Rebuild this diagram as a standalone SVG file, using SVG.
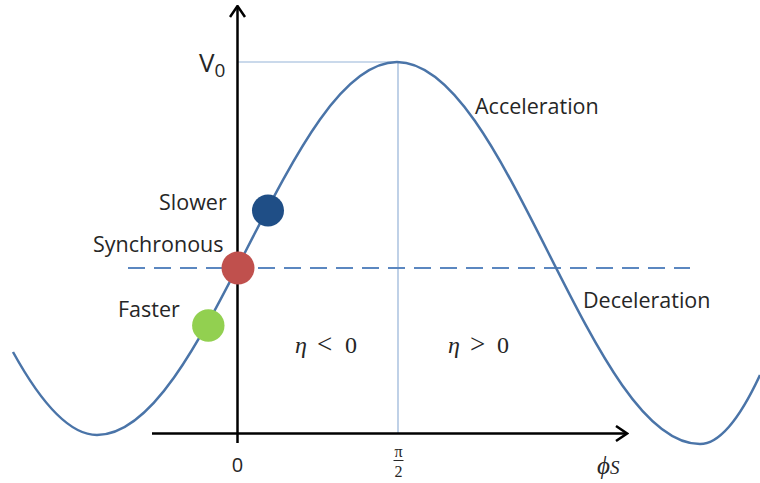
<svg xmlns="http://www.w3.org/2000/svg" width="760" height="483" viewBox="0 0 760 483">
<style>
.lbl{font-family:"Open Sans","Liberation Sans",sans-serif;font-size:21.5px;fill:#262626}
.math{font-family:"Liberation Serif","DejaVu Serif",serif;fill:#262626}
.axis{stroke:#000;stroke-width:2.5;fill:none}
.guide{stroke:#95B3D7;stroke-width:1.2;fill:none}
</style>
<defs>
<marker id="arrow" viewBox="0 0 14 18" refX="12.5" refY="9" markerWidth="14" markerHeight="18" markerUnits="userSpaceOnUse" orient="auto">
<path d="M1.5,1.5 L12.5,9 L1.5,16.5" fill="none" stroke="#000" stroke-width="2.5"/>
</marker>
</defs>
<rect width="760" height="483" fill="#fff"/>
<g id="guides">
<line class="guide" x1="237" y1="62" x2="398" y2="62"/>
<line class="guide" x1="398" y1="62" x2="398" y2="433"/>
<line x1="128" y1="268" x2="690" y2="268" stroke="#5B87C0" stroke-width="2" stroke-dasharray="17 9"/>
</g>
<g id="axes">
<line class="axis" x1="152" y1="433.5" x2="627" y2="433.5" marker-end="url(#arrow)"/>
<line class="axis" x1="237.5" y1="443" x2="237.5" y2="6" marker-end="url(#arrow)"/>
</g>
<g id="curve">
<path d="M13,352 C41,402.8 69,435 97,435 C151.3,435 198.1,344 247,248.5 C295.9,153 342.7,62 397,62 C451.8,62 499.1,155.2 548.5,253 C597.9,350.9 645.2,444 700,444 C720,444 740,418 760,375" fill="none" stroke="#4A74A8" stroke-width="2.5"/>
</g>
<g id="node-slower">
<circle cx="268" cy="210.5" r="16" fill="#1F4E86"/>
<text class="lbl" x="159" y="210">Slower</text>
</g>
<g id="node-synchronous">
<circle cx="238" cy="268" r="16.5" fill="#C0504D"/>
<text class="lbl" x="93" y="252">Synchronous</text>
</g>
<g id="node-faster">
<circle cx="208.3" cy="325.5" r="16.2" fill="#92D050"/>
<text class="lbl" x="118" y="317">Faster</text>
</g>
<g id="labels">
<text class="lbl" x="475" y="114">Acceleration</text>
<text class="lbl" x="583" y="308">Deceleration</text>
<text class="lbl" x="199" y="72" style="font-size:26px">V<tspan font-size="19" dy="5">0</tspan></text>
<text class="lbl" x="237.5" y="472" text-anchor="middle" style="font-size:20px">0</text>
<text class="math" x="398.5" y="457" text-anchor="middle" font-size="16">π</text>
<line x1="393.5" y1="460.5" x2="403.5" y2="460.5" stroke="#262626" stroke-width="1"/>
<text class="math" x="398.5" y="477" text-anchor="middle" font-size="16">2</text>
<text class="math" x="597" y="474" font-size="25" font-style="italic">ϕ<tspan font-size="19">S</tspan></text>
<text class="math" y="353" font-size="24"><tspan x="295" font-style="italic">η</tspan><tspan x="317" font-size="27">&lt;</tspan><tspan x="345">0</tspan></text>
<text class="math" y="353" font-size="24"><tspan x="448" font-style="italic">η</tspan><tspan x="470" font-size="27">&gt;</tspan><tspan x="497">0</tspan></text>
</g>
</svg>
